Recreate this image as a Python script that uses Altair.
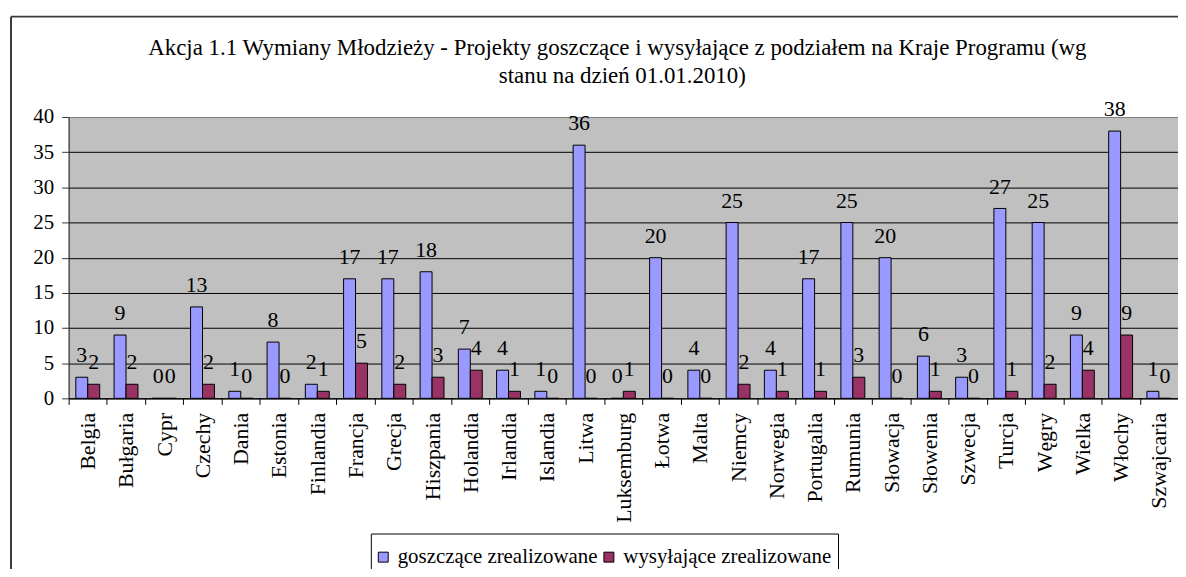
import altair as alt
import pandas as pd

countries = ["Belgia", "Bułgaria", "Cypr", "Czechy", "Dania", "Estonia", "Finlandia",
             "Francja", "Grecja", "Hiszpania", "Holandia", "Irlandia", "Islandia", "Litwa",
             "Luksemburg", "Łotwa", "Malta", "Niemcy", "Norwegia", "Portugalia", "Rumunia",
             "Słowacja", "Słowenia", "Szwecja", "Turcja", "Węgry", "Wielka", "Włochy",
             "Szwajcaria"]
hosting = [3, 9, 0, 13, 1, 8, 2, 17, 17, 18, 7, 4, 1, 36, 0, 20, 4, 25, 4, 17, 25, 20,
           6, 3, 27, 25, 9, 38, 1]
sending = [2, 2, 0, 2, 0, 0, 1, 5, 2, 3, 4, 1, 0, 0, 1, 0, 0, 2, 1, 1, 3, 0, 1, 0, 1,
           2, 4, 9, 0]
series_names = ["goszczące zrealizowane", "wysyłające zrealizowane"]
colors = ["#9999FF", "#993366"]
y_ticks = [0, 5, 10, 15, 20, 25, 30, 35, 40]
title_lines = ["Akcja 1.1 Wymiany Młodzieży - Projekty goszczące i wysyłające z podziałem na Kraje Programu (wg",
               "stanu na dzień 01.01.2010)"]

rows = []
for c, h, s in zip(countries, hosting, sending):
    rows.append({"kraj": c, "seria": series_names[0], "wartosc": h})
    rows.append({"kraj": c, "seria": series_names[1], "wartosc": s})
df = pd.DataFrame(rows)

FONT = "Liberation Serif"

x = alt.X("kraj:N", sort=countries,
          scale=alt.Scale(paddingInner=0, paddingOuter=0),
          axis=alt.Axis(title=None, labelAngle=-90, labelFont=FONT, labelFontSize=22,
                        labelColor="black", tickBand="extent", tickSize=6,
                        tickColor="black", domainColor="black", labelPadding=8,
                        grid=False, labelLimit=0))
xo = alt.XOffset("seria:N", sort=series_names,
                 scale=alt.Scale(paddingOuter=0.6, paddingInner=0))
y = alt.Y("wartosc:Q", scale=alt.Scale(domain=[0, 40], nice=False),
          axis=alt.Axis(values=y_ticks, title=None, labelFont=FONT, labelFontSize=21,
                        labelColor="black", tickSize=7, labelPadding=8,
                        gridColor={"condition": {"test": "datum.value == 40", "value": "#808080"},
                                   "value": "black"},
                        gridWidth=1, domainColor="#333333", tickColor="#333333"))
color = alt.Color("seria:N", sort=series_names,
                  scale=alt.Scale(domain=series_names, range=colors),
                  legend=alt.Legend(orient="none", legendX=304, legendY=419,
                                    direction="horizontal", title=" ",
                                    titleFontSize=2, titlePadding=5,
                                    symbolType="square", symbolSize=100,
                                    symbolOffset=-4,
                                    symbolStrokeColor="black", symbolStrokeWidth=1,
                                    labelFont=FONT, labelFontSize=21, labelColor="black",
                                    labelOffset=4, columnPadding=3, padding=6,
                                    strokeColor="black", fillColor="white", labelLimit=0))

bars = alt.Chart(df).mark_bar(stroke="black", strokeWidth=1).encode(
    x=x, xOffset=xo, y=y, color=color)

labels = alt.Chart(df).mark_text(baseline="alphabetic", dy=-15, font=FONT, fontSize=22,
                                 color="black").encode(
    x=x, xOffset=xo, y=y, text="wartosc:Q")

one = pd.DataFrame({"a": [0]})
title1 = alt.Chart(one).mark_text(font=FONT, fontSize=23, color="black",
                                  baseline="middle", align="center").encode(
    x=alt.value(552), y=alt.value(-69), text=alt.value(title_lines[0]))
title2 = alt.Chart(one).mark_text(font=FONT, fontSize=23, color="black",
                                  baseline="middle", align="center").encode(
    x=alt.value(557), y=alt.value(-41), text=alt.value(title_lines[1]))

frame_left = alt.Chart(one).mark_rule(color="#3a3a3a", strokeWidth=2).encode(
    x=alt.value(-58), y=alt.value(-101), y2=alt.value(470))
frame_top = alt.Chart(one).mark_rule(color="#3a3a3a", strokeWidth=2).encode(
    x=alt.value(-58), x2=alt.value(1130), y=alt.value(-101))

chart = alt.layer(bars, labels, title1, title2, frame_left, frame_top).properties(
    width=1116, height=283,
    autosize=alt.AutoSizeParams(type="none"),
    padding={"left": 61, "top": 108, "right": 0, "bottom": 170},
).configure_view(fill="#C0C0C0", stroke="#808080", strokeWidth=1)

chart.save("out.html", embed_options={"renderer": "svg", "actions": False})
